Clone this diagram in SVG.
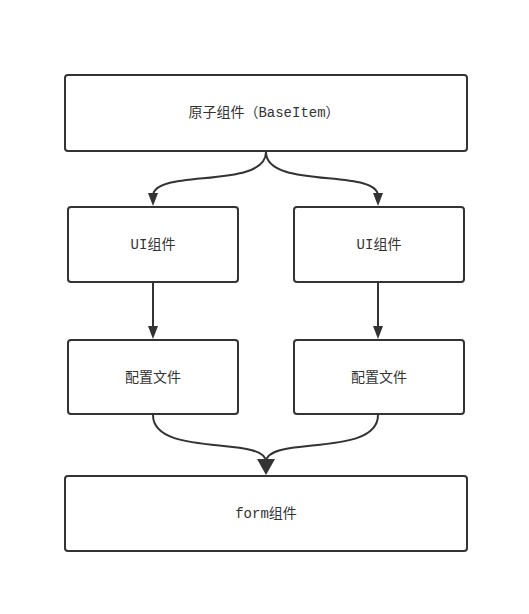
<svg xmlns="http://www.w3.org/2000/svg" width="529" height="614" viewBox="0 0 529 614">
<style>
.box{fill:#fff;stroke:#333;stroke-width:2}
.lbl{font-family:"Liberation Mono","Noto Sans CJK SC",monospace;font-size:14px;fill:#333;text-anchor:middle;dominant-baseline:central}
.edge{fill:none;stroke:#333;stroke-width:2}
.head{fill:#333}
</style>
<rect width="529" height="614" fill="#fff"/>
<g id="edges">
<path class="edge" d="M266 152 C266 190 153 168 153 196"/>
<path class="edge" d="M266 152 C266 190 378 168 378 196"/>
<path class="edge" d="M153 283 L153 328"/>
<path class="edge" d="M378 283 L378 328"/>
<path class="edge" d="M153 415 C153 458 266 435 266 462"/>
<path class="edge" d="M378 415 C378 458 266 435 266 462"/>
<path class="head" d="M257 459 L275 459 L266 475 Z"/>
<path class="head" d="M148 193 L158 193 L153 206 Z"/>
<path class="head" d="M373 193 L383 193 L378 206 Z"/>
<path class="head" d="M148 326 L158 326 L153 339 Z"/>
<path class="head" d="M373 326 L383 326 L378 339 Z"/>
</g>
<g id="base"><rect class="box" x="65" y="75" width="402" height="76" rx="3"/><text class="lbl" x="264" y="113">原子组件（BaseItem）</text></g>
<g id="ui1"><rect class="box" x="68" y="207" width="170" height="75" rx="3"/><text class="lbl" x="153" y="245">UI组件</text></g>
<g id="ui2"><rect class="box" x="294" y="207" width="170" height="75" rx="3"/><text class="lbl" x="379" y="245">UI组件</text></g>
<g id="cfg1"><rect class="box" x="68" y="340" width="170" height="74" rx="3"/><text class="lbl" x="153" y="378">配置文件</text></g>
<g id="cfg2"><rect class="box" x="294" y="340" width="170" height="74" rx="3"/><text class="lbl" x="379" y="378">配置文件</text></g>
<g id="form"><rect class="box" x="65" y="476" width="402" height="75" rx="3"/><text class="lbl" x="266" y="514">form组件</text></g>
</svg>
